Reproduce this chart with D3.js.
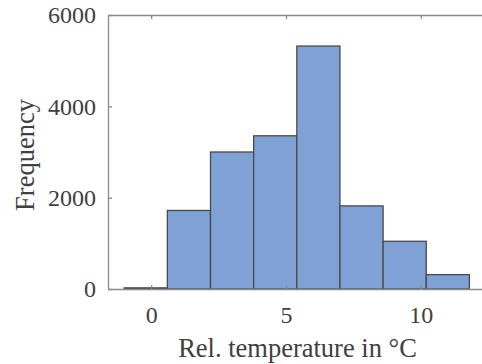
<!DOCTYPE html>
<html>
<head>
<meta charset="utf-8">
<script src="https://cdn.jsdelivr.net/npm/d3@7"></script>
<style>
  body { margin: 0; background: #fff; }
  text { font-family: "Liberation Serif", "Times New Roman", serif; fill: #404040; }
</style>
</head>
<body>
<div id="hist"></div>
<script>
// histogram bins (edges in °C) and counts
var binEdges = [-1.0, 0.6, 2.2, 3.8, 5.4, 7.0, 8.6, 10.2, 11.8];
var counts = [25, 1720, 3000, 3355, 5320, 1820, 1045, 315];
var xTicks = [0, 5, 10];
var yTicks = [0, 2000, 4000, 6000];

var W = 482, H = 364;
var margin = {top: 15, left: 108, bottom: 75};
var plotH = H - margin.top - margin.bottom;

var svg = d3.select("#hist")
  .append("svg")
    .attr("width", W)
    .attr("height", H);

var x = d3.scaleLinear()
  .domain([-1.6, 12.6])
  .range([margin.left, margin.left + 383]);

var y = d3.scaleLinear()
  .domain([0, 6000])
  .range([margin.top + plotH, margin.top]);

var bins = counts.map(function(c, i) {
  return {x0: binEdges[i], x1: binEdges[i + 1], n: c};
});

// bars
svg.selectAll("rect.bar")
  .data(bins)
  .enter()
  .append("rect")
    .attr("class", "bar")
    .attr("x", function(d) { return x(d.x0); })
    .attr("y", function(d) { return y(d.n); })
    .attr("width", function(d) { return x(d.x1) - x(d.x0); })
    .attr("height", function(d) { return y(0) - y(d.n); })
    .style("fill", "#7fa1d5")
    .style("stroke", "#4a4a4a")
    .style("stroke-width", 1.3);

// axes, ticks inward (MATLAB style)
var axColor = "#8a8a8a";

var xAxis = svg.append("g")
  .attr("transform", "translate(0," + y(0) + ")")
  .call(d3.axisBottom(x).tickValues(xTicks).tickSizeInner(-4).tickSizeOuter(0).tickPadding(17));

var xTop = svg.append("g")
  .attr("transform", "translate(0," + y(6000) + ")")
  .call(d3.axisTop(x).tickValues(xTicks).tickSizeInner(-4).tickSizeOuter(0).tickFormat(""));

var yAxis = svg.append("g")
  .attr("transform", "translate(" + x(-1.6) + ",0)")
  .call(d3.axisLeft(y).tickValues(yTicks).tickFormat(d3.format("d"))
    .tickSizeInner(-4).tickSizeOuter(0).tickPadding(12));

[xAxis, xTop, yAxis].forEach(function(g) {
  g.select(".domain").attr("stroke", axColor).attr("stroke-width", 1.3);
  g.selectAll(".tick line").attr("stroke", axColor).attr("stroke-width", 1.3);
  g.selectAll(".tick text")
    .style("font-family", "Liberation Serif")
    .style("font-size", "24px")
    .attr("fill", "#404040");
});

// labels
svg.append("text")
  .attr("text-anchor", "middle")
  .attr("x", 297.5)
  .attr("y", 357)
  .style("font-size", "26.5px")
  .text("Rel. temperature in °C");

svg.append("text")
  .attr("text-anchor", "middle")
  .attr("transform", "translate(34,155) rotate(-90)")
  .style("font-size", "26.5px")
  .text("Frequency");
</script>
</body>
</html>
